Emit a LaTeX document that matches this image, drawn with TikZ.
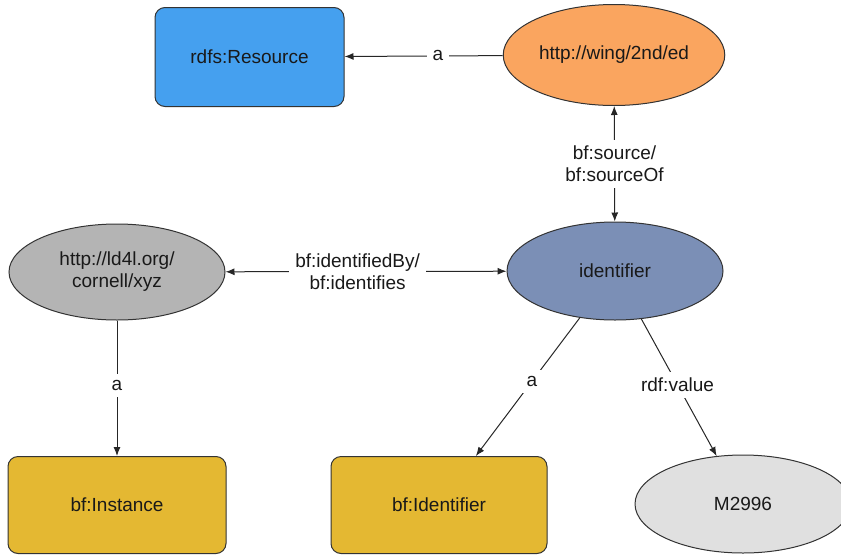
\documentclass[tikz,border=0pt]{standalone}
\usepackage{fontspec}
\setmainfont{Liberation Sans}
\usetikzlibrary{calc,shapes.geometric,arrows.meta}

\definecolor{resblue}{RGB}{69,160,239}
\definecolor{uriorange}{RGB}{250,165,95}
\definecolor{urigray}{RGB}{180,180,180}
\definecolor{idslate}{RGB}{123,143,182}
\definecolor{clsgold}{RGB}{228,184,50}
\definecolor{litgray}{RGB}{224,224,224}

\tikzset{
    box/.style={rectangle, rounded corners=10pt, draw=black!80, line width=1pt, minimum width=216pt, minimum height=97pt, text=black!90},
    blob/.style={ellipse, draw=black!80, line width=1pt, minimum width=216pt, minimum height=98pt, text=black!90, align=center},
    link/.style={line width=1pt, draw=black!85, -{Latex[length=9pt,width=7pt]}},
    lbl/.style={fill=white, inner sep=6pt, align=center, text=black!90}
}

\begin{document}
\begin{tikzpicture}[x=1pt, y=-1pt, font=\fontsize{19}{22}\selectfont]
    \useasboundingbox (0,0) rectangle (841,555);

    \node[box, fill=resblue, minimum width=189pt, minimum height=99pt] (res) at (249.5,57) {rdfs:Resource};
    
    \node[blob, fill=uriorange, minimum height=101pt] (wing) at (614,55) {http://wing/2nd/ed};
    
    \node[blob, fill=urigray, minimum height=96pt] (cornell) at (117,272) {http://ld4l.org/\\cornell/xyz};
    
    \node[blob, fill=idslate] (ident) at ($(wing) + (1,216)$) {identifier};
    
    \node[box, fill=clsgold, minimum width=218pt] (inst) at ($(cornell) + (0,233)$) {bf:Instance};
    
    \node[box, fill=clsgold] (idcls) at ($(ident) + (-176,234)$) {bf:Identifier};
    
    \node[blob, fill=litgray] (val) at ($(ident) + (128,233)$) {M2996};
    
    \draw[link] (wing) -- node[lbl, pos=0.41] {a} (res);
    \draw[link, {Latex[length=9pt,width=7pt]}-{Latex[length=9pt,width=7pt]}] (wing) -- node[lbl] {bf:source/\\bf:sourceOf} (ident);
    \draw[link, {Latex[length=9pt,width=7pt]}-{Latex[length=9pt,width=7pt]}] (cornell) -- node[lbl, pos=0.47] {bf:identifiedBy/\\bf:identifies} (ident);
    \draw[link] (cornell) -- node[lbl, pos=0.48] {a} (inst);
    \draw[link] (ident) -- node[lbl, pos=0.46] {a} (idcls);
    \draw[link] (ident) -- node[lbl, pos=0.48] {rdf:value} (val);
    
\end{tikzpicture}
\end{document}
